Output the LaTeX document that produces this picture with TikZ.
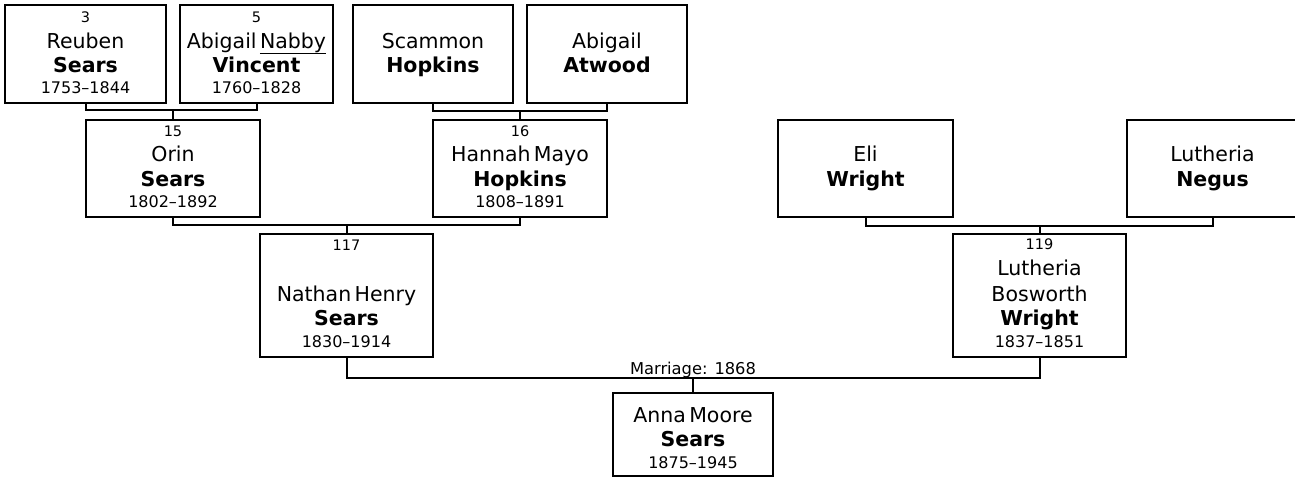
\documentclass[tikz,border=0pt]{standalone}
\usepackage{fontspec}
\setmainfont{DejaVu Sans}
\newcommand\Ln[3]{{\fontsize{#1}{#2}\selectfont #3\par}}
\tikzset{
  pbox/.style={draw=black, line width=2pt, inner sep=0pt, fill=white},
  ptext/.style={anchor=base, inner sep=0pt, text width=200pt, align=center},
  conn/.style={draw=black, line width=2pt},
  mlabel/.style={anchor=base, inner sep=0pt, font=\fontsize{16.3}{18}\selectfont}
}
\begin{document}
\begin{tikzpicture}[x=1pt,y=-1pt]
\useasboundingbox (0,0) rectangle (1295,479);
\fill[white] (0,0) rectangle (1295,479);

% boxes
\node[pbox, minimum width=161pt, minimum height=98pt] (n3)  at (85.5,54) {};
\node[pbox, minimum width=153pt, minimum height=98pt] (n5)  at (256.5,54) {};
\node[pbox, minimum width=160pt, minimum height=98pt] (nSH) at (433,54) {};
\node[pbox, minimum width=160pt, minimum height=98pt] (nAA) at (607,54) {};
\node[pbox, minimum width=174pt, minimum height=97pt] (n15) at (173,168.5) {};
\node[pbox, minimum width=174pt, minimum height=97pt] (n16) at (520,168.5) {};
\node[pbox, minimum width=175pt, minimum height=97pt] (nEW) at (865.5,168.5) {};
\node[pbox, minimum width=171pt, minimum height=97pt] (nLN) at (1212.5,168.5) {};
\node[pbox, minimum width=173pt, minimum height=123pt] (n117) at (346.5,295.5) {};
\node[pbox, minimum width=173pt, minimum height=123pt] (n119) at (1039.5,295.5) {};
\node[pbox, minimum width=160pt, minimum height=83pt] (nA) at (693,434.5) {};

% texts
\node[ptext] (t3) at (85.5,22.5) {\Ln{14.5}{0}{3}\Ln{20.5}{25.5}{Reuben}\Ln{20.5}{24}{\bfseries Sears}\Ln{16}{21.5}{1753–1844}};
\node[ptext] (t5) at (256.5,22.5) {\Ln{14.5}{0}{5}\Ln{20.5}{25.5}{Abigail \underline{Nabby}}\Ln{20.5}{24}{\bfseries Vincent}\Ln{16}{21.5}{1760–1828}};
\node[ptext] (tSH) at (433,48) {\Ln{20.5}{0}{Scammon}\Ln{20.5}{24}{\bfseries Hopkins}};
\node[ptext] (tAA) at (607,48) {\Ln{20.5}{0}{Abigail}\Ln{20.5}{24}{\bfseries Atwood}};
\node[ptext] (t15) at (173,136) {\Ln{14.5}{0}{15}\Ln{20.5}{25.5}{Orin}\Ln{20.5}{24.5}{\bfseries Sears}\Ln{16}{21.5}{1802–1892}};
\node[ptext] (t16) at (520,136) {\Ln{14.5}{0}{16}\Ln{20.5}{25.5}{Hannah Mayo}\Ln{20.5}{24.5}{\bfseries Hopkins}\Ln{16}{21.5}{1808–1891}};
\node[ptext] (tEW) at (865.5,161.5) {\Ln{20.5}{0}{Eli}\Ln{20.5}{24.5}{\bfseries Wright}};
\node[ptext] (tLN) at (1212.5,161.5) {\Ln{20.5}{0}{Lutheria}\Ln{20.5}{24.5}{\bfseries Negus}};
\node[ptext] (t117) at (346.5,250) {\Ln{14.5}{0}{117}\Ln{20.5}{51}{Nathan Henry}\Ln{20.5}{24}{\bfseries Sears}\Ln{16}{22}{1830–1914}};
\node[ptext] (t119) at (1039.5,249) {\Ln{14.5}{0}{119}\Ln{20.5}{26}{Lutheria}\Ln{20.5}{26}{Bosworth}\Ln{20.5}{24}{\bfseries Wright}\Ln{16}{22}{1837–1851}};
\node[ptext] (tA) at (693,422.5) {\Ln{20.5}{0}{Anna Moore}\Ln{20.5}{23.5}{\bfseries Sears}\Ln{16}{22.5}{1875–1945}};

% junctions
\coordinate (j1) at (173,110);
\coordinate (j2) at (520,111);
\coordinate (j3) at (346.5,225);
\coordinate (j4) at (1039.5,226);
\coordinate (j5) at (693,378);

% connectors
\draw[conn] (n3.south) |- (j1) -| (n5.south);
\draw[conn] (j1) -- (n15.north);
\draw[conn] (nSH.south) |- (j2) -| (nAA.south);
\draw[conn] (j2) -- (n16.north);
\draw[conn] (n15.south) |- (j3) -| (n16.south);
\draw[conn] (j3) -- (n117.north);
\draw[conn] (nEW.south) |- (j4) -| (nLN.south);
\draw[conn] (j4) -- (n119.north);
\draw[conn] (n117.south) |- (j5) -| (n119.south);
\draw[conn] (j5) -- (nA.north);

\node[mlabel] (ml) at (693,374.5) {Marriage: 1868};
\end{tikzpicture}
\end{document}
